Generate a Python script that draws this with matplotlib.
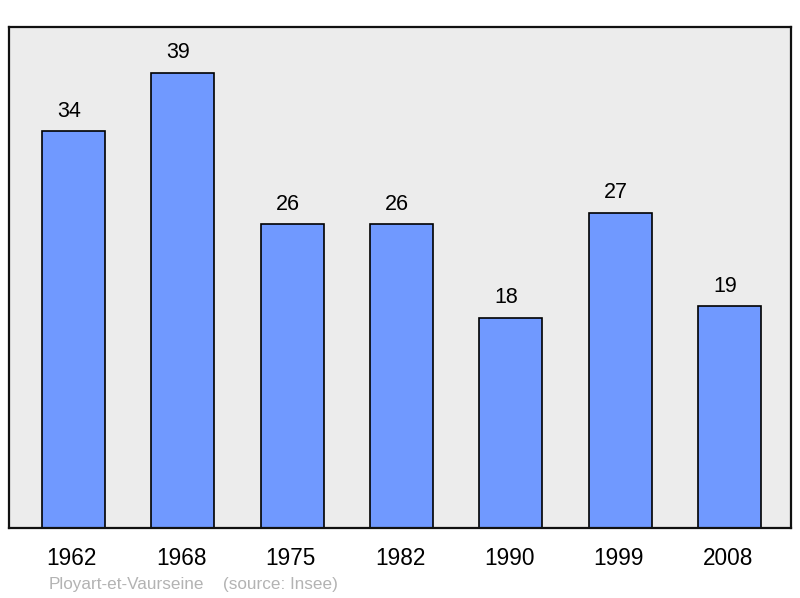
import matplotlib
matplotlib.use("Agg")
import matplotlib.pyplot as plt
import numpy as np

years = ["1962", "1968", "1975", "1982", "1990", "1999", "2008"]
population = [34, 39, 26, 26, 18, 27, 19]

plt.rcParams['font.family'] = ['Liberation Sans', 'DejaVu Sans']

fig = plt.figure(figsize=(8, 5.98), dpi=100)
ax = fig.add_axes([9 / 800, 70 / 598, 782 / 800, 501 / 598])
ax.set_facecolor('#ececec')

x = np.arange(len(years))
bars = ax.bar(x, population, width=0.575, color='#7099ff',
              edgecolor='black', linewidth=1.2, zorder=2)

# value labels sit a little left of the bar centre, like the original
for xi, v in zip(x, population):
    ax.annotate(str(v), (xi, v), xytext=(-3.3, 10.3), textcoords='offset points',
                ha='center', va='baseline', fontsize=15.5)

ax.set_xlim(-0.589, 6.562)
ax.set_ylim(0, 42.9)
ax.set_yticks([])
ax.set_xticks(x - 0.014)
ax.set_xticklabels(years, fontsize=16.3)
ax.tick_params(axis='x', length=0, pad=13.8)

for s in ax.spines.values():
    s.set_linewidth(1.6)
    s.set_color('#111111')

fig.text(49 / 800, 1 - 584 / 598, "Ployart-et-Vaurseine", fontsize=12.3,
         color='#b3b3b3', va='center', ha='left')
fig.text(223 / 800, 1 - 584 / 598, "(source: Insee)", fontsize=12.3,
         color='#b3b3b3', va='center', ha='left')

fig.savefig("out.png", dpi=100)
